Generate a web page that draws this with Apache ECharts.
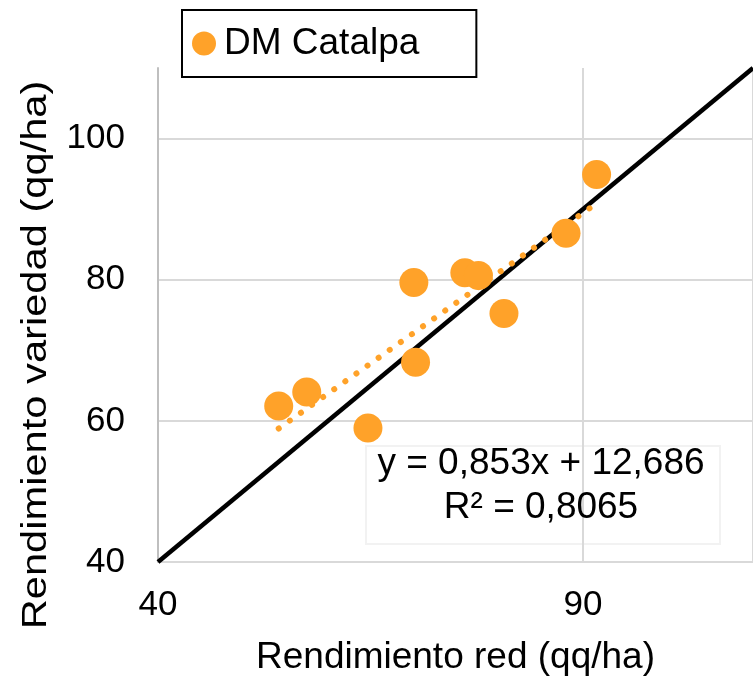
<!DOCTYPE html>
<html>
<head>
<meta charset="utf-8">
<script src="https://cdn.jsdelivr.net/npm/echarts@6/dist/echarts.min.js"></script>
<style>
html,body{margin:0;padding:0;background:#fff;}
#chart{width:753px;height:681px;}
</style>
</head>
<body>
<div id="chart"></div>
<script>
// Data
const seriesName = 'DM Catalpa';
const rendRed = [54.2, 57.5, 64.7, 70.1, 70.3, 76.1, 77.7, 80.7, 88.0, 91.6];
const rendVariedad = [62.1, 64.1, 59.0, 79.6, 68.3, 81.0, 80.6, 75.2, 86.6, 94.9];
const trendSlope = 0.853;
const trendIntercept = 12.686;
const equationText = 'y = 0,853x + 12,686';
const r2Text = 'R² = 0,8065';
const identityLine = [[40, 40], [110, 110]];
const xTitle = 'Rendimiento red (qq/ha)';
const yTitle = 'Rendimiento variedad (qq/ha)';

const FONT = 'Liberation Sans, Arial, sans-serif';
const ORANGE = '#FFA229';

const points = rendRed.map((x, i) => [x, rendVariedad[i]]);
const xMin = Math.min(...rendRed), xMax = Math.max(...rendRed);
const trendData = [[xMin, trendSlope * xMin + trendIntercept], [xMax, trendSlope * xMax + trendIntercept]];

const chart = echarts.init(document.getElementById('chart'), null, {renderer: 'canvas'});
chart.setOption({
  backgroundColor: '#fff',
  animation: false,
  textStyle: {fontFamily: FONT},
  grid: {left: 158, top: 68, width: 598, height: 495.6, containLabel: false},
  legend: {
    data: [seriesName],
    left: 182, top: 10,
    borderColor: '#000', borderWidth: 2,
    padding: [15, 57, 15, 10],
    itemWidth: 24, itemHeight: 24,
    icon: 'circle',
    textStyle: {fontSize: 37, color: '#000', fontFamily: FONT, padding: [0, 0, 0, 3]}
  },
  xAxis: {
    type: 'value', min: 40, max: 110, interval: 50,
    name: xTitle, nameLocation: 'middle', nameGap: 77,
    nameTextStyle: {fontSize: 37, color: '#000', fontFamily: FONT},
    axisLine: {show: true, lineStyle: {color: '#d9d9d9', width: 2}},
    axisTick: {show: false},
    axisLabel: {fontSize: 35, color: '#000', margin: 26, showMaxLabel: false, fontFamily: FONT},
    splitLine: {show: true, lineStyle: {color: '#d9d9d9', width: 2}}
  },
  yAxis: {
    type: 'value', min: 40, max: 110, interval: 20,
    axisLine: {show: true, lineStyle: {color: '#bfbfbf', width: 2}},
    axisTick: {show: false},
    axisLabel: {fontSize: 35, color: '#000', margin: 33, showMaxLabel: false, fontFamily: FONT},
    splitLine: {show: true, showMaxLine: false, lineStyle: {color: '#d9d9d9', width: 2}}
  },
  series: [
    {
      name: '1:1', type: 'line', data: identityLine, symbol: 'none', z: 1,
      lineStyle: {color: '#000', width: 4.5}, silent: true
    },
    {
      name: 'trend', type: 'line', data: trendData, symbol: 'none', z: 2,
      lineStyle: {color: ORANGE, width: 6, type: [0.1, 13.5], cap: 'round'}, silent: true
    },
    {
      name: seriesName, type: 'scatter', data: points, symbol: 'circle', symbolSize: 29, z: 3,
      itemStyle: {color: ORANGE, opacity: 1}
    }
  ],
  graphic: [
    {
      type: 'rect', z: 0,
      shape: {x: 366, y: 446, width: 354, height: 98},
      style: {fill: 'rgba(255,255,255,0.6)', stroke: '#f2f2f2', lineWidth: 2}
    },
    {
      type: 'text', x: 541, y: 464, z: 10,
      style: {text: equationText, font: '37px ' + FONT, fill: '#000', textAlign: 'center', textVerticalAlign: 'middle'}
    },
    {
      type: 'text', x: 541, y: 508, z: 10,
      style: {text: r2Text, font: '37px ' + FONT, fill: '#000', textAlign: 'center', textVerticalAlign: 'middle'}
    },
    {
      type: 'text', x: 36, y: 355, rotation: Math.PI / 2, scaleX: 1.19, z: 10,
      style: {text: yTitle, font: '35px ' + FONT, fill: '#000', textAlign: 'center', textVerticalAlign: 'middle'}
    }
  ]
});
</script>
</body>
</html>
